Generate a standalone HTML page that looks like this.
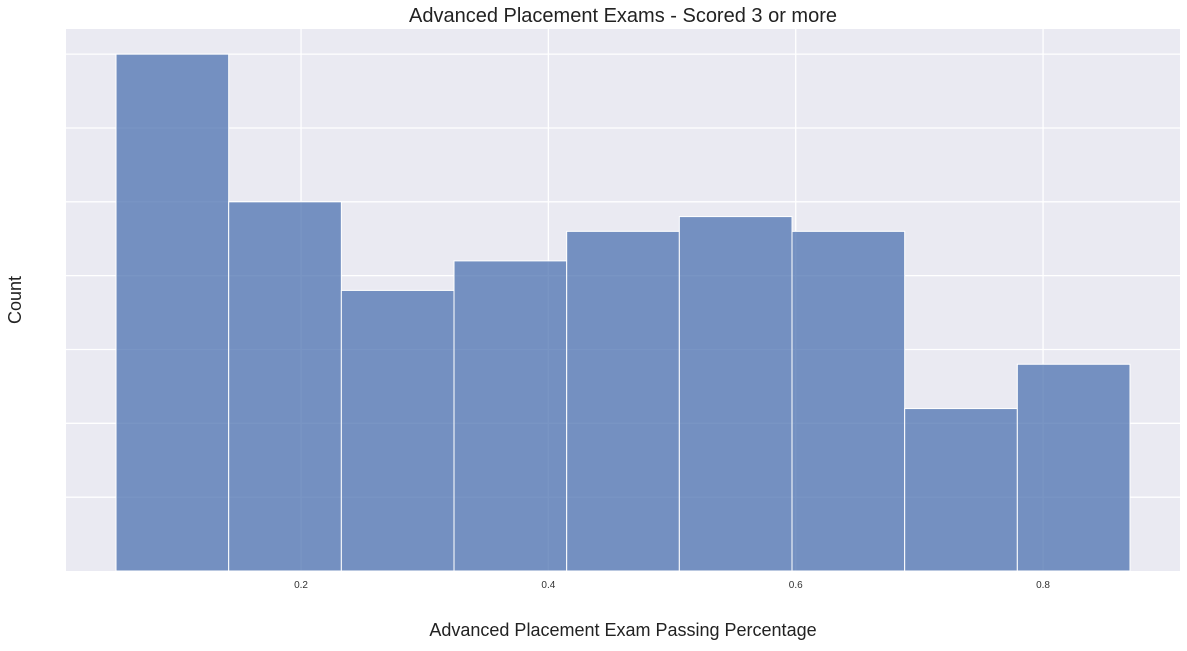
<!DOCTYPE html>
<html><head><meta charset="utf-8"><style>
body{margin:0;background:#fff;font-family:"Liberation Sans",Arial,sans-serif}
</style></head><body>
<svg id="c" width="1187" height="646" xmlns="http://www.w3.org/2000/svg">
<rect x="66" y="29" width="1114" height="542" fill="#eaeaf2"/>
<g id="grid"></g><g id="bars"></g><g id="ticks"></g>
<text x="623" y="22" font-size="20" text-anchor="middle" fill="#222">Advanced Placement Exams - Scored 3 or more</text>
<text x="623" y="636" font-size="18" text-anchor="middle" fill="#222">Advanced Placement Exam Passing Percentage</text>
<text x="21" y="300" font-size="18" text-anchor="middle" fill="#222" transform="rotate(-90 21 300)">Count</text>
</svg>
<script>
const binStart = 0.0504;
const binWidth = 0.0911;
const counts = [35, 25, 19, 21, 23, 24, 23, 11, 14];
const xTicks = [0.2, 0.4, 0.6, 0.8];
const xTickLabels = ["0.2", "0.4", "0.6", "0.8"];
const yGrid = [5, 10, 15, 20, 25, 30, 35];
const NS = "http://www.w3.org/2000/svg";
function xs(v){return 53.7 + v*1236.7;}
function ys(v){return 571 - v*14.767;}
function mk(t,a,p){const e=document.createElementNS(NS,t);for(const k in a)e.setAttribute(k,a[k]);p.appendChild(e);return e;}
const grid=document.getElementById('grid'),bars=document.getElementById('bars'),ticks=document.getElementById('ticks');
yGrid.forEach(v=>{const l=mk('line',{x1:66,x2:1180,y1:ys(v),y2:ys(v),stroke:'#fff','stroke-width':1.3},grid);

});
xTicks.forEach((v,i)=>{const l=mk('line',{x1:xs(v),x2:xs(v),y1:29,y2:571,stroke:'#fff','stroke-width':1.3},grid);


const t=mk('text',{x:xs(v),y:588,'font-size':10,'text-anchor':'middle',fill:'#333'},ticks);t.textContent=xTickLabels[i];

});
counts.forEach((c,i)=>{const x0=xs(binStart+i*binWidth),x1=xs(binStart+(i+1)*binWidth);
const r=mk('rect',{x:x0,y:ys(c),width:x1-x0,height:ys(0)-ys(c),fill:'rgba(76,114,176,0.75)',stroke:'#fff','stroke-width':1},bars);

});
</script>
</body></html>
